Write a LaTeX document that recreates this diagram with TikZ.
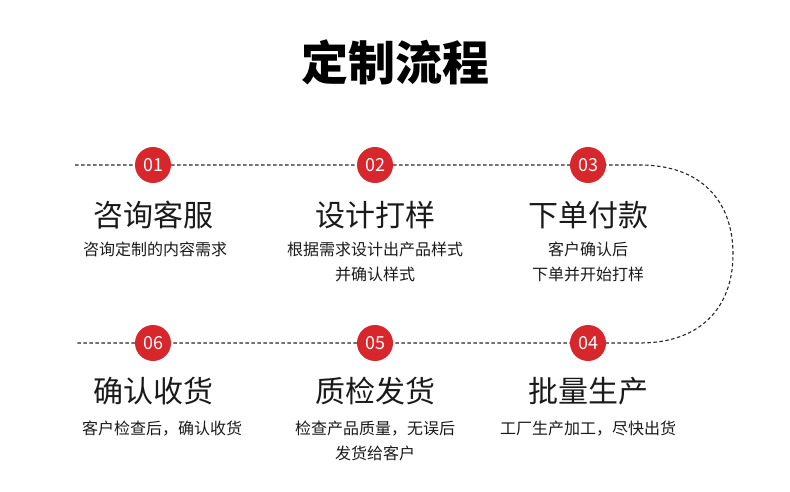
\documentclass[tikz,border=0pt]{standalone}
\usepackage{fontspec}
\newfontfamily\cjk{Noto Sans CJK SC}
\definecolor{myred}{HTML}{D7262C}
\definecolor{txt}{HTML}{1A1A1A}
\begin{document}
\begin{tikzpicture}[x=1pt,y=-1pt,
  num/.style={circle,fill=myred,minimum size=36pt,inner sep=0pt,text=white,font=\cjk\fontsize{18}{18}\selectfont},
  head/.style={text=txt,font=\cjk\fontsize{30}{30}\selectfont,inner sep=0pt},
  sub/.style={text=txt,font=\cjk\fontsize{16}{25}\selectfont,align=center,inner sep=0pt},
  dline/.style={draw=black!85,line width=1.1pt,dash pattern=on 3.5pt off 2.5pt}]
\useasboundingbox (0,0) rectangle (790,492);
\node[text=black,font=\cjk\bfseries\fontsize{47}{47}\selectfont,inner sep=0pt] (title) at (395,62) {定制流程};
\coordinate (tl) at (75,165);
\coordinate (bl) at (75,343);
\coordinate (tr) at (640,165);
\coordinate (br) at (640,343);
\coordinate (mr) at (733,254);
\draw[dline] (tl) -- (tr) .. controls (700,165) and (733,200) .. (mr) .. controls (733,308) and (700,343) .. (br) -- (bl);
\node[num] (c1) at (153,165) {01};
\node[num] (c2) at (375,165) {02};
\node[num] (c3) at (588,165) {03};
\node[num] (c6) at (153,343) {06};
\node[num] (c5) at (375,343) {05};
\node[num] (c4) at (588,343) {04};
\node[head] (h1) at (153,215) {咨询客服};
\node[head] (h2) at (375,215) {设计打样};
\node[head] (h3) at (588,215) {下单付款};
\node[head] (h6) at (153,391) {确认收货};
\node[head] (h5) at (375,391) {质检发货};
\node[head] (h4) at (588,391) {批量生产};
\node[sub,anchor=north] (s1) at (155,242) {咨询定制的内容需求};
\node[sub,anchor=north] (s2) at (375,242) {根据需求设计出产品样式\\并确认样式};
\node[sub,anchor=north] (s3) at (588,242) {客户确认后\\下单并开始打样};
\node[sub,anchor=north] (s6) at (162,421) {客户检查后，确认收货};
\node[sub,anchor=north] (s5) at (375,421) {检查产品质量，无误后\\发货给客户};
\node[sub,anchor=north] (s4) at (588,421) {工厂生产加工，尽快出货};
\end{tikzpicture}
\end{document}
